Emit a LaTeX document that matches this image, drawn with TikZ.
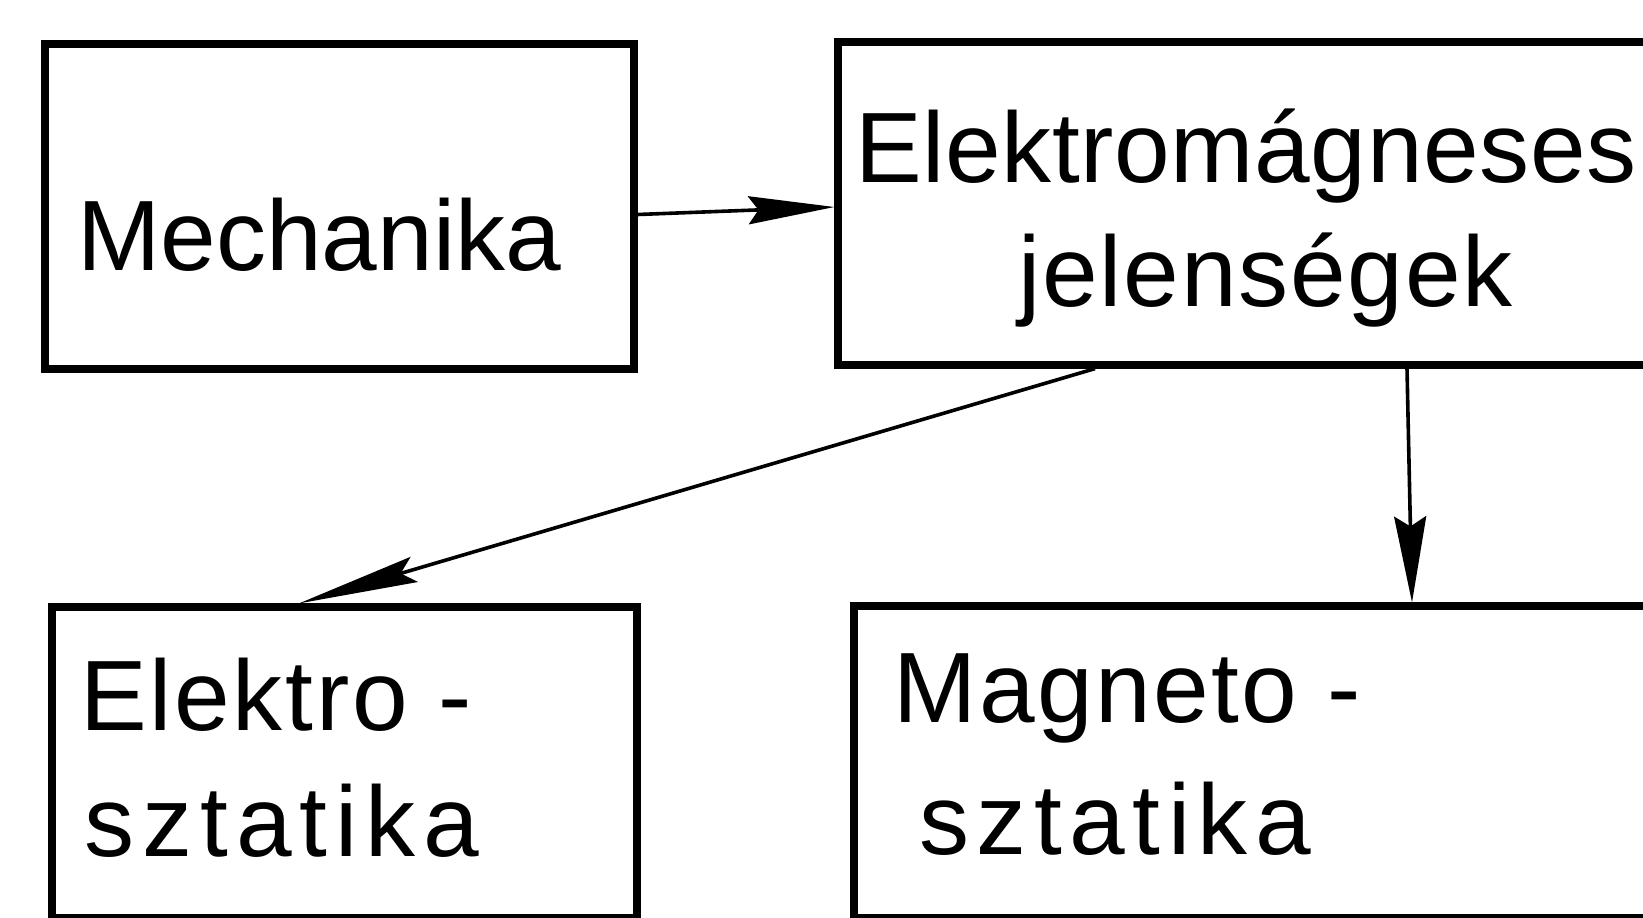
\documentclass[tikz,border=0pt]{standalone}
\usepackage{fontspec}
\setmainfont{Liberation Sans}
\usetikzlibrary{arrows.meta}
\begin{document}
\begin{tikzpicture}[x=0.5pt,y=-0.5pt,
  box/.style={draw, line width=3.6pt, inner sep=0pt, rectangle},
  lbl/.style={anchor=base west, inner sep=0pt, font=\fontsize{50}{60}\selectfont},
  conn/.style={line width=1.8pt},
]
\useasboundingbox (0,0) rectangle (1643,917);
\clip (0,0) rectangle (1643,917);
\fill[white] (0,0) rectangle (1643,917);
% boxes
\node[box, minimum width=294.5pt, minimum height=162.5pt] (mech) at (339.5,206.5) {};
\node[box, minimum width=431pt, minimum height=161.5pt] (em) at (1269,203.5) {};
\node[box, minimum width=292.5pt, minimum height=155.5pt] (es) at (344.5,762.5) {};
\node[box, minimum width=423pt, minimum height=156pt] (ms) at (1277,762) {};
% labels
\node[lbl] (mechT) at (77,270) {Mechanika};
\node[lbl] (emT1) at (855,182) {\addfontfeature{LetterSpace=0.6}Elektromágneses};
\node[lbl] (emT2) at (1018,306) {\addfontfeature{LetterSpace=1.8}jelenségek};
\node[lbl] (esT1) at (80,730) {\addfontfeature{LetterSpace=2.7}Elektro -};
\node[lbl] (esT2) at (84,856) {\addfontfeature{LetterSpace=8}sztatika};
\node[lbl] (msT1) at (893,722) {\addfontfeature{LetterSpace=2.5}Magneto -};
\node[lbl] (msT2) at (919,854) {\addfontfeature{LetterSpace=7.5}sztatika};
% connectors
\draw[conn, -{Stealth[length=43pt,width=14pt,inset=5pt]}] ([yshift=-4pt]mech.east) -- ([yshift=-1.75pt]em.west);
\draw[conn, -{Stealth[length=60pt,width=13pt,inset=7pt]}] ([xshift=-87pt]em.south) -- ([xshift=-22.75pt]es.north);
\draw[conn, -{Stealth[length=43pt,width=16pt,inset=5pt]}] ([xshift=69pt]em.south) -- ([xshift=67.5pt]ms.north);
\end{tikzpicture}
\end{document}
